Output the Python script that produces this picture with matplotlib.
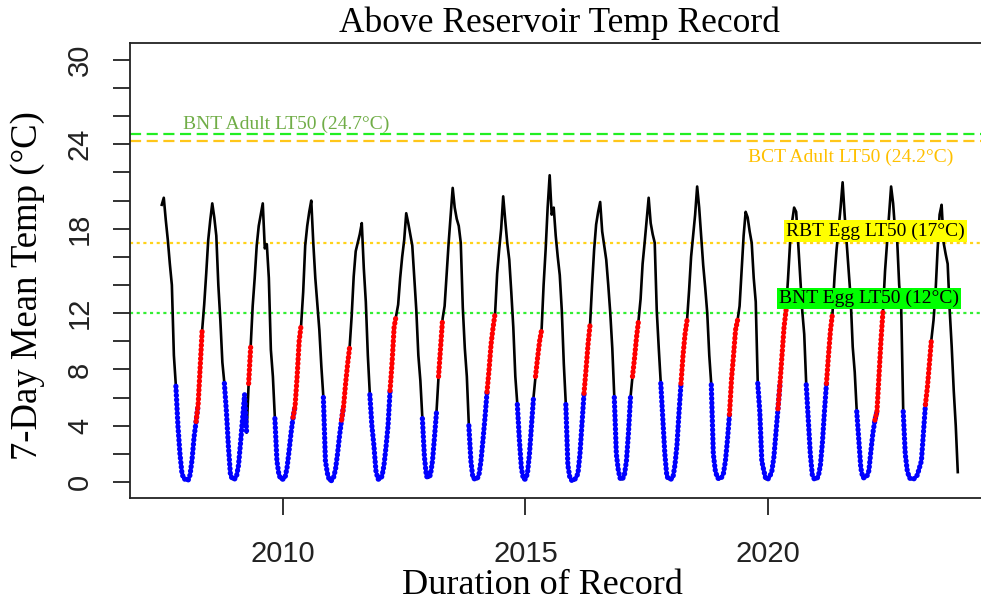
import numpy as np
import matplotlib.pyplot as plt

# 7-day mean water temp (deg C) at the 1st and
# 15th of every month. 2007 starts in July, 2023 stops in late November.
temp_2007 = [19.7, 20.2, 18.6, 17.2, 15.5, 14.0, 9.0, 6.8, 4.0, 2.0, 0.6, 0.2]
temp_2008 = [0.2, 0.1, 0.5, 1.6, 3.2, 4.3, 5.5, 8.2, 10.8, 12.6, 14.8, 17.2,
             18.6, 19.8, 18.8, 17.5, 14.0, 11.5, 8.5, 7.0, 5.0, 2.5, 0.5, 0.2]
temp_2009 = [0.2, 0.4, 1.2, 2.8, 4.5, 6.2, 3.5, 7.0, 9.6, 12.5, 14.5, 16.8,
             18.2, 19.0, 19.8, 16.6, 16.9, 14.5, 9.4, 7.5, 4.5, 1.5, 0.5, 0.2]
temp_2010 = [0.2, 0.3, 1.0, 2.2, 3.5, 4.6, 5.4, 7.5, 10.0, 11.2, 13.5, 16.8,
             18.2, 19.2, 20.0, 17.0, 14.5, 12.6, 10.8, 8.2, 6.0, 1.5, 0.6, 0.1]
temp_2011 = [0.1, 0.3, 0.9, 2.0, 3.3, 4.4, 5.4, 7.0, 8.4, 9.6, 11.8, 14.6,
             16.4, 17.0, 17.6, 18.4, 15.2, 12.8, 9.0, 6.2, 4.0, 2.6, 0.8, 0.2]
temp_2012 = [0.2, 0.4, 1.2, 2.5, 4.0, 6.5, 8.5, 11.0, 11.8, 12.6, 14.5, 16.0,
             17.2, 19.1, 18.4, 17.6, 16.8, 14.5, 12.2, 9.0, 7.2, 4.5, 1.8, 0.4]
temp_2013 = [0.3, 0.5, 1.5, 3.2, 5.0, 7.5, 9.5, 11.6, 12.5, 14.8, 17.0, 19.0,
             20.9, 19.5, 18.7, 18.2, 17.0, 12.4, 9.5, 7.5, 4.0, 1.5, 0.3, 0.2]
temp_2014 = [0.2, 0.5, 1.5, 3.0, 4.6, 6.4, 8.0, 9.8, 11.0, 12.0, 14.8, 16.5,
             18.0, 20.3, 18.6, 17.0, 15.8, 13.5, 11.0, 7.5, 5.5, 3.0, 1.0, 0.2]
temp_2015 = [0.2, 0.6, 2.0, 4.0, 6.0, 7.5, 8.8, 10.0, 10.8, 14.0, 16.5, 19.5,
             21.8, 19.0, 19.5, 17.5, 16.0, 14.7, 12.2, 8.4, 5.5, 1.2, 0.3, 0.1]
temp_2016 = [0.1, 0.3, 0.6, 2.0, 4.2, 6.3, 8.0, 9.8, 11.2, 14.0, 16.5, 18.3,
             19.2, 19.9, 17.8, 16.8, 15.8, 14.0, 12.0, 9.5, 6.0, 2.0, 0.8, 0.2]
temp_2017 = [0.2, 0.5, 1.5, 3.5, 6.0, 7.5, 8.8, 10.3, 11.5, 13.0, 15.5, 17.0,
             18.6, 20.2, 18.4, 17.6, 17.0, 12.2, 9.5, 7.0, 4.5, 2.0, 0.4, 0.2]
temp_2018 = [0.2, 0.3, 1.2, 2.6, 4.9, 7.0, 9.0, 10.5, 11.5, 13.6, 16.0, 17.5,
             19.0, 21.0, 19.5, 17.5, 15.4, 13.8, 12.0, 9.0, 6.9, 2.0, 0.8, 0.3]
temp_2019 = [0.2, 0.3, 0.6, 1.5, 3.0, 4.8, 7.3, 9.0, 10.8, 11.5, 12.5, 15.0,
             17.5, 19.2, 18.8, 17.8, 17.0, 14.5, 12.8, 7.0, 5.0, 1.5, 0.8, 0.2]
temp_2020 = [0.2, 0.4, 0.8, 1.8, 3.5, 5.2, 7.0, 9.0, 11.0, 12.2, 14.5, 17.0,
             18.5, 19.5, 19.2, 17.0, 14.6, 12.2, 10.5, 6.9, 4.5, 2.0, 0.5, 0.2]
temp_2021 = [0.2, 0.4, 1.2, 2.8, 5.0, 7.0, 9.0, 10.8, 12.0, 14.6, 16.5, 18.0,
             19.5, 21.3, 19.0, 17.0, 15.0, 13.0, 9.6, 7.8, 5.0, 3.0, 1.0, 0.3]
temp_2022 = [0.3, 0.4, 0.8, 2.2, 3.5, 4.4, 5.0, 7.5, 10.1, 12.2, 15.0, 17.0,
             19.0, 21.0, 19.8, 17.8, 17.2, 14.0, 12.4, 5.0, 2.0, 0.8, 0.3, 0.2]
temp_2023 = [0.2, 0.3, 0.5, 1.0, 1.5, 3.5, 5.5, 6.8, 8.5, 10.2, 11.5, 13.5,
             16.5, 19.0, 19.7, 17.0, 16.2, 15.5, 12.2, 9.6, 6.5, 4.0, 0.7]

yearly = [temp_2007, temp_2008, temp_2009, temp_2010, temp_2011, temp_2012,
          temp_2013, temp_2014, temp_2015, temp_2016, temp_2017, temp_2018,
          temp_2019, temp_2020, temp_2021, temp_2022, temp_2023]
first_year = 2007
first_slot = 12          # 2007 record starts July 1
flag_end = 2023.7        # last fall is not classified

# threshold lines
lt50_vals = [24.7, 24.2, 17, 12]
lt50_labels = ['BNT Adult LT50 (24.7°C)', 'BCT Adult LT50 (24.2°C)',
               'RBT Egg LT50 (17°C)', 'BNT Egg LT50 (12°C)']

SERIF = ['Liberation Serif', 'DejaVu Serif']
SANS = ['Liberation Sans', 'DejaVu Sans']


def build_series():
    t, v = [], []
    for i, vals in enumerate(yearly):
        yr = first_year + i
        k0 = first_slot if i == 0 else 0
        for k, val in enumerate(vals):
            t.append(yr + (k0 + k) / 24)
            v.append(val)
    return np.array(t), np.array(v)


def main():
    t, v = build_series()
    slot = np.round((t % 1) * 24).astype(int)
    in_flag = t < flag_end
    blue = ((slot >= 19) | (slot <= 6)) & (v <= 7.0) & in_flag
    red = (slot >= 5) & (slot <= 9) & (v >= 4.0) & (v <= 12.3) & in_flag

    fig = plt.figure(figsize=(9.81, 6.05), dpi=100)
    W, H = 981, 605
    ax = fig.add_axes([130 / W, 1 - 498 / H, (988 - 130) / W, (498 - 43) / H])

    ax.axhline(lt50_vals[0], color='#22EE22', lw=1.6, dashes=(5, 2.5), zorder=1)
    ax.axhline(lt50_vals[1], color='#FFC61A', lw=1.6, dashes=(5, 2.5), zorder=1)
    ax.axhline(lt50_vals[2], color='#FFD21A', lw=1.6, dashes=(1.4, 1.6), zorder=1)
    ax.axhline(lt50_vals[3], color='#33EE33', lw=1.6, dashes=(1.4, 1.6), zorder=1)

    ax.plot(t, v, color='black', lw=1.9, zorder=2)
    dots = dict(lw=3.8, linestyle=(0, (0.05, 0.8)), dash_capstyle='round')
    ax.plot(t, np.where(blue, v, np.nan), color='#0000FF', zorder=3, **dots)
    ax.plot(t, np.where(red, v, np.nan), color='#FF0000', zorder=4, **dots)

    ax.text(2007.94, 25.44, lt50_labels[0], color='#70AD47', fontsize=14,
            family=SERIF, va='center', ha='left')
    ax.text(2019.59, 23.1, lt50_labels[1], color='#FFC000', fontsize=14,
            family=SERIF, va='center', ha='left')
    ax.text(2022.22, 17.84, lt50_labels[2], color='black', fontsize=14,
            family=SERIF, va='center', ha='center', zorder=6,
            bbox=dict(facecolor='#FFFF00', edgecolor='none', pad=1.5))
    ax.text(2022.09, 13.04, lt50_labels[3], color='black', fontsize=14,
            family=SERIF, va='center', ha='center', zorder=6,
            bbox=dict(facecolor='#00FF00', edgecolor='none', pad=1.5))

    ax.set_xlim(2006.845, 2024.54)
    ax.set_ylim(-1.14, 31.2)

    ax.set_xticks([2010, 2015, 2020])
    ax.set_xticklabels(['2010', '2015', '2020'], family=SANS, fontsize=21)
    yt = list(range(0, 31, 2))
    ax.set_yticks(yt)
    ax.set_yticklabels([str(y) if y in (0, 4, 8, 12, 18, 24, 30) else ''
                        for y in yt], family=SANS, fontsize=21,
                       rotation=90, va='center')
    ax.tick_params(axis='both', length=12, width=1.3, color='#222222',
                   labelcolor='#222222')
    ax.tick_params(axis='x', pad=18)
    ax.tick_params(axis='y', pad=14)
    for sp in ax.spines.values():
        sp.set_linewidth(1.3)
        sp.set_color('#222222')

    fig.text(559 / W, 1 - 23 / H, 'Above Reservoir Temp Record', family=SERIF,
             fontsize=25.5, ha='center', va='center')
    fig.text(542 / W, 1 - 585 / H, 'Duration of Record', family=SERIF,
             fontsize=26, ha='center', va='center')
    fig.text(28 / W, 1 - 286 / H, '7-Day Mean Temp (°C)', family=SERIF,
             fontsize=26.5, ha='center', va='center', rotation=90)

    fig.savefig('out.png', dpi=100)


if __name__ == "__main__":
    main()
